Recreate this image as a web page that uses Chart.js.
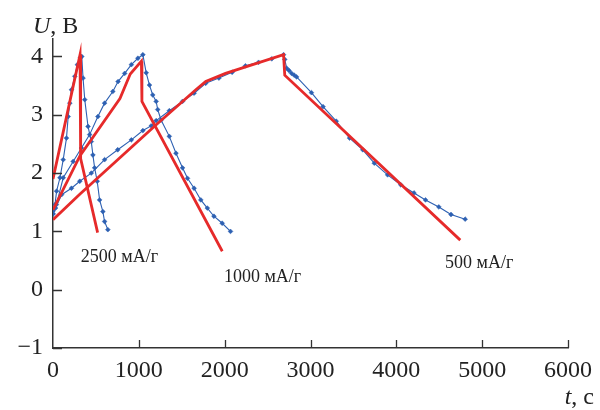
<!DOCTYPE html>
<html>
<head>
<meta charset="utf-8">
<script src="https://cdn.jsdelivr.net/npm/chart.js@4.4.1/dist/chart.umd.min.js"></script>
<style>
  html, body { margin: 0; padding: 0; background: #fff; }
</style>
</head>
<body>
<canvas id="chart" width="600" height="410"></canvas>
<script>
// t, s  /  U, V  -- measured (blue) and model (red) curves
const blue2500T = [0, 23, 42, 81, 119, 157, 177, 196, 215, 254, 284, 320, 335, 350, 370, 408, 446, 465, 485, 515, 543, 581, 601, 639];
const blue2500U = [1.35, 1.46, 1.69, 1.92, 2.23, 2.6, 2.97, 3.2, 3.43, 3.66, 3.86, 3.98, 4.0, 3.63, 3.26, 2.8, 2.54, 2.31, 2.09, 1.86, 1.54, 1.34, 1.17, 1.03];

const blue1000T = [0, 40, 119, 235, 331, 427, 523, 601, 697, 758, 835, 913, 989, 1047, 1086, 1124, 1162, 1202, 1220, 1259, 1355, 1433, 1509, 1567, 1644, 1722, 1798, 1875, 1971, 2068];
const blue1000U = [1.3, 1.46, 1.92, 2.2, 2.43, 2.66, 2.97, 3.2, 3.4, 3.57, 3.71, 3.86, 3.97, 4.03, 3.72, 3.51, 3.34, 3.23, 3.09, 2.91, 2.63, 2.34, 2.09, 1.91, 1.74, 1.54, 1.4, 1.26, 1.14, 1.0];

const blue500T = [0, 30, 100, 215, 312, 446, 601, 754, 913, 1047, 1144, 1202, 1355, 1509, 1644, 1779, 1933, 2087, 2242, 2395, 2549, 2686, 2700, 2722, 2750, 2780, 2810, 2838, 3011, 3146, 3300, 3455, 3609, 3743, 3898, 4051, 4206, 4340, 4495, 4637, 4802];
const blue500U = [1.3, 1.4, 1.63, 1.74, 1.86, 2.0, 2.23, 2.4, 2.57, 2.73, 2.81, 2.9, 3.07, 3.23, 3.37, 3.54, 3.63, 3.73, 3.84, 3.9, 3.96, 4.03, 3.95, 3.8, 3.76, 3.71, 3.68, 3.65, 3.38, 3.14, 2.89, 2.6, 2.4, 2.17, 1.97, 1.8, 1.66, 1.54, 1.42, 1.29, 1.21];

const red2500T = [0, 315, 322, 520];
const red2500U = [1.9, 4.03, 2.25, 0.98];

const red1000T = [0, 315, 780, 900, 1030, 1036, 1972];
const red1000U = [1.37, 2.3, 3.28, 3.7, 3.92, 3.23, 0.66];

const red500T = [0, 315, 1202, 1664, 1779, 2010, 2686, 2700, 4745];
const red500U = [1.2, 1.64, 2.83, 3.43, 3.57, 3.71, 4.03, 3.68, 0.85];

const xTicks = [0, 1000, 2000, 3000, 4000, 5000, 6000];
const yTicks = [-1, 0, 1, 2, 3, 4];
const rateLabels = ['2500 мА/г', '1000 мА/г', '500 мА/г'];

const serif = '"Liberation Serif", "DejaVu Serif", serif';
const redColor = '#e62a2a';
const blueColor = '#2d60b2';

function pts(t, u) {
  return t.map((v, i) => ({ x: v, y: u[i] }));
}

function redSet(t, u) {
  return {
    data: pts(t, u),
    showLine: true,
    borderColor: redColor,
    borderWidth: 2.8,
    pointRadius: 0
  };
}

function blueSet(t, u) {
  return {
    data: pts(t, u),
    showLine: true,
    borderColor: blueColor,
    borderWidth: 1.1,
    pointStyle: 'rectRot',
    pointRadius: 2.4,
    pointBackgroundColor: blueColor,
    pointBorderColor: blueColor,
    pointBorderWidth: 0.5
  };
}

// inward tick marks, axis titles and rate labels
const decor = {
  id: 'decor',
  afterDraw(chart) {
    const ctx = chart.ctx;
    const xs = chart.scales.x;
    const ys = chart.scales.y;
    ctx.save();
    ctx.strokeStyle = '#333';
    ctx.lineWidth = 1.3;
    ctx.beginPath();
    yTicks.forEach(v => {
      const py = Math.round(ys.getPixelForValue(v)) + 0.5;
      ctx.moveTo(xs.left, py);
      ctx.lineTo(xs.left + 9, py);
    });
    xTicks.slice(1).forEach(v => {
      const px = Math.round(xs.getPixelForValue(v)) + 0.5;
      ctx.moveTo(px, ys.bottom);
      ctx.lineTo(px, ys.bottom - 8);
    });
    ctx.stroke();

    ctx.fillStyle = '#222';
    ctx.textBaseline = 'alphabetic';
    ctx.textAlign = 'left';
    ctx.font = 'italic 24px ' + serif;
    ctx.fillText('U', 33, 33);
    let w = ctx.measureText('U').width;
    ctx.font = '24px ' + serif;
    ctx.fillText(', В', 33 + w, 33);

    ctx.font = '24px ' + serif;
    const rest = ', с';
    const rw = ctx.measureText(rest).width;
    ctx.font = 'italic 24px ' + serif;
    const tw = ctx.measureText('t').width;
    const tx = 594 - rw - tw;
    ctx.fillText('t', tx, 404);
    ctx.font = '24px ' + serif;
    ctx.fillText(rest, tx + tw, 404);

    // rate labels, anchored in data coordinates
    const spots = [[324, 0.55], [1991, 0.21], [4568, 0.46]];
    ctx.font = '18px ' + serif;
    ctx.textBaseline = 'middle';
    rateLabels.forEach((txt, i) => {
      ctx.fillText(txt, xs.getPixelForValue(spots[i][0]), ys.getPixelForValue(spots[i][1]));
    });
    ctx.restore();
  }
};

new Chart(document.getElementById('chart'), {
  type: 'scatter',
  data: {
    datasets: [
      redSet(red2500T, red2500U),
      redSet(red1000T, red1000U),
      redSet(red500T, red500U),
      blueSet(blue2500T, blue2500U),
      blueSet(blue1000T, blue1000U),
      blueSet(blue500T, blue500U)
    ]
  },
  options: {
    responsive: false,
    animation: false,
    devicePixelRatio: 1,
    layout: { padding: { top: 39, right: 28, left: 0, bottom: 0 } },
    plugins: { legend: { display: false }, tooltip: { enabled: false } },
    scales: {
      x: {
        type: 'linear',
        min: 0,
        max: 6000,
        afterBuildTicks: s => { s.ticks = xTicks.map(v => ({ value: v })); },
        afterFit: s => { s.height = 62; },
        grid: { display: false, drawTicks: false },
        border: { display: true, color: '#333', width: 1.5 },
        ticks: {
          padding: 8,
          color: '#222',
          font: { family: serif, size: 24 },
          maxRotation: 0,
          callback: v => String(v)
        }
      },
      y: {
        type: 'linear',
        min: -1,
        max: 4.3,
        afterBuildTicks: s => { s.ticks = yTicks.map(v => ({ value: v })); },
        afterFit: s => { s.width = 53; },
        grid: { display: false, drawTicks: false },
        border: { display: true, color: '#333', width: 1.5 },
        ticks: {
          padding: 10,
          color: '#222',
          font: { family: serif, size: 24 },
          callback: v => String(v).replace('-', '\u2212')
        }
      }
    }
  },
  plugins: [decor]
});
</script>
</body>
</html>
